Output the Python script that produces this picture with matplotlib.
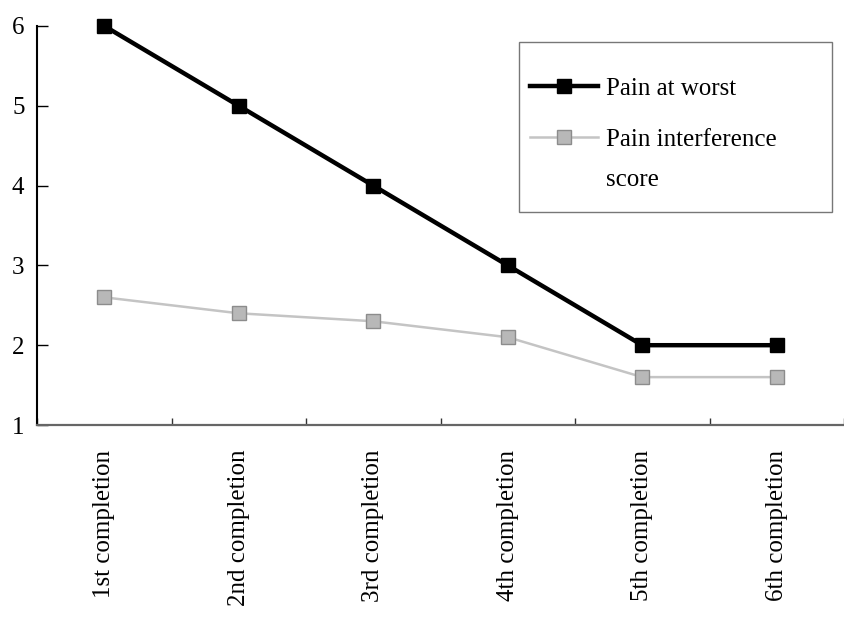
import matplotlib
matplotlib.use('Agg')
import matplotlib.pyplot as plt
from matplotlib.patches import Rectangle

# data
categories = ['1st completion', '2nd completion', '3rd completion',
              '4th completion', '5th completion', '6th completion']
pain_worst = [6, 5, 4, 3, 2, 2]
pain_interference = [2.6, 2.4, 2.3, 2.1, 1.6, 1.6]

plt.rcParams['font.family'] = ['Liberation Serif', 'DejaVu Serif']

fig = plt.figure(figsize=(8.44, 6.18), dpi=100)
ax = fig.add_axes([37/844, 1 - 425/618, 1 - 37/844, 399/618])

x = list(range(len(categories)))
ax.plot(x, pain_worst, color='black', lw=3.2, marker='s', markersize=10,
        markerfacecolor='black', markeredgecolor='black', label='Pain at worst',
        zorder=3, clip_on=False)
ax.plot(x, pain_interference, color='#c4c4c4', lw=1.8, marker='s', markersize=10,
        markerfacecolor='#b8b8b8', markeredgecolor='#8c8c8c', markeredgewidth=1,
        label='Pain interference', zorder=2, clip_on=False)

ax.set_xlim(-0.5, 5.5)
ax.set_ylim(1, 6)
ax.set_yticks([1, 2, 3, 4, 5, 6])

# ticks sit on category boundaries, labels under the categories
ax.set_xticks([-0.5 + i for i in range(7)])
ax.set_xticklabels([])
ax.set_xticks(x, minor=True)
ax.set_xticklabels(categories, minor=True, rotation=90, fontsize=18)
ax.tick_params(axis='x', which='minor', length=0, pad=18)
ax.tick_params(axis='x', which='major', direction='in', length=5, width=1, color='#333333')
ax.tick_params(axis='y', direction='in', length=8, width=1, labelsize=18, pad=9)

for s in ['top', 'right']:
    ax.spines[s].set_visible(False)
ax.spines['left'].set_linewidth(1.5)
ax.spines['bottom'].set_linewidth(1.6)
ax.spines['bottom'].set_color('#666666')

# legend without frame, box drawn by hand to get the wide padding
leg = ax.legend(loc='upper left', bbox_to_anchor=(0.611, 0.872), fontsize=18,
                handlelength=2.7, handletextpad=0.35, labelspacing=1.15, borderpad=0,
                borderaxespad=0, frameon=False)
# second line of the gray label, handle stays with the first line
ax.text(0.705, 0.614, 'score', transform=ax.transAxes, fontsize=18, va='center', ha='left')
ax.add_patch(Rectangle((0.597, 0.534), 0.388, 0.426, transform=ax.transAxes,
                       fill=False, edgecolor='#777777', lw=1, clip_on=False))

plt.savefig('out.png', dpi=100)
